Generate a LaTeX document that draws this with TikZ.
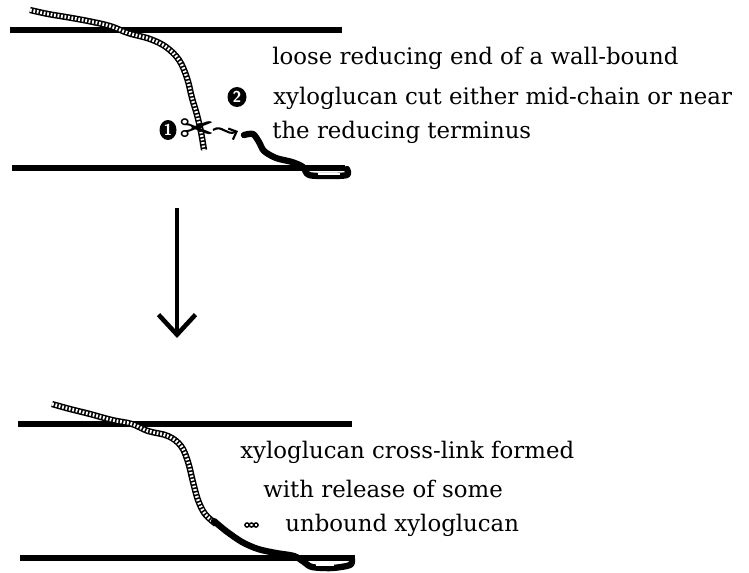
\documentclass[tikz,border=0pt]{standalone}
\usepackage{fontspec}
\setmainfont{DejaVu Serif}
\newfontfamily\symfont{DejaVu Sans}
\usetikzlibrary{arrows.meta}
\usetikzlibrary{shapes.geometric}
\usetikzlibrary{positioning}
\tikzstyle{wall} = [line width=2.9pt, line cap=butt]
\tikzstyle{bound} = [line width=3.6pt, line cap=round, line join=round]
\tikzstyle{caption} = [anchor=west, inner sep=0pt, align=left, font={\fontsize{13}{15}\selectfont}]

\begin{document}
\begin{tikzpicture}[x=0.02cm, y=-0.02cm,
        loose/.style={line width=3.6pt, draw=black, postaction={draw=white, line width=1.9pt, dash pattern=on 1pt off 1pt}},
        num/.style={ellipse, fill=black, text=white, inner sep=0pt, minimum width=0.34cm, minimum height=0.4cm, font={\sffamily\bfseries\small}}
      ]
      \useasboundingbox (0,0) rectangle (749,572);
      % cell walls before the cut
      \draw[wall]  (10,30) -- (342,30);
      \draw[wall]  (12,168) -- (345,168);
      % wall-bound xyloglucan with its loose end
      \draw[loose] plot[smooth, tension=0.6] coordinates {(30,10) (48,14) (66,17) (88,21) (110,26) (128,33) (150,39) (166,47) (179,60) (187,78) (192,98) (197,115) (201,132) (204,150)};
      \draw[bound] plot[smooth, tension=0.5] coordinates {(244,135) (253,134) (259,142) (264,151) (276,158) (292,162) (303,167) (309,175) (330,176) (347,175) (347,169)};
      \draw[white, line width=0.6pt] (318,174) -- (340,174);
      \node[num]                    (one)   at (168,130)      {1};
      \node[num, minimum width=0.38cm] (two) at (237,97)      {2};
      \node[inner sep=0pt]          (cut)   at (197,131)      {\symfont\bfseries\fontsize{24}{24}\selectfont ✂};
      \coordinate                   (cutA)  at (213,130);
      \coordinate                   (cutB)  at (238,131);
      \draw[line width=1.2pt, -{Straight Barb[length=1.3mm, width=2.4mm]}] (cutA) .. controls (222,124) and (226,136) .. (cutB);
      \node[caption]                (txtA)  at (272,58)       {loose reducing end of a wall-bound};
      \node[caption]                (txtB)  at (273,98)       {xyloglucan cut either mid-chain or near};
      \node[caption]                (txtC)  at (272,132)      {the reducing terminus};
      % transglycosylation step
      \coordinate                   (arrTop) at (177,208);
      \coordinate                   (arrEnd) at (177,338);
      \draw[line width=1.8pt, -{Straight Barb[length=4mm, width=7.4mm, line width=2.6pt]}] (arrTop) -- (arrEnd);
      % cell walls after the cut
      \draw[wall]  (18,424) -- (352,424);
      \draw[wall]  (20,558) -- (355,558);
      \draw[loose] plot[smooth, tension=0.6] coordinates {(52,404) (70,409) (90,414) (112,420) (132,424) (148,431) (168,436) (181,446) (188,462) (193,482) (198,500) (205,514) (216,524)};
      \draw[bound] plot[smooth, tension=0.5] coordinates {(214,521) (226,531) (242,542) (258,549) (276,553) (294,556) (304,562) (312,567) (332,568) (350,565) (352,559)};
      \draw[white, line width=0.6pt] (316,565) -- (334,565);
      % released fragment
      \foreach \px in {247,251.5,256}
        \draw[line width=0.8pt] (\px,525) circle (2.1);
      \node[caption]                (txtD)  at (240,452)      {xyloglucan cross-link formed};
      \node[caption]                (txtE)  at (263,489)      {with release of some};
      \node[caption]                (txtF)  at (285,525)      {unbound xyloglucan};
    \end{tikzpicture}
\end{document}
